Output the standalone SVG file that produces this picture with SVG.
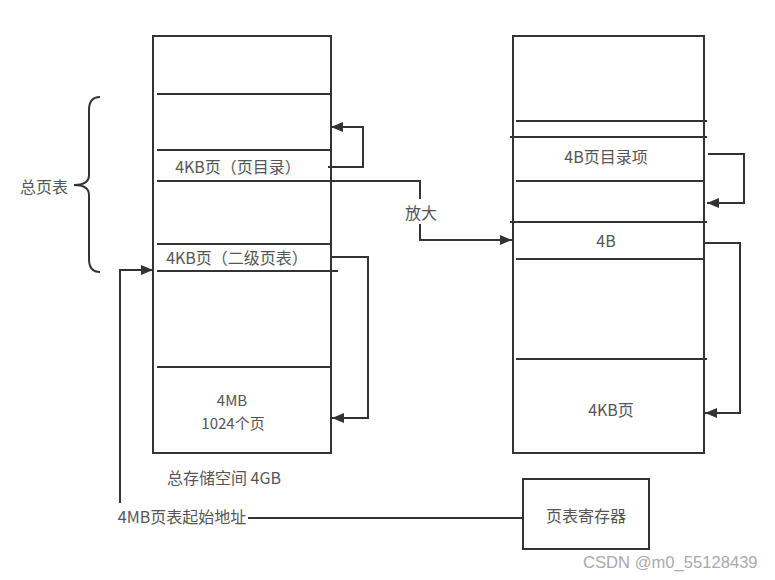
<svg xmlns="http://www.w3.org/2000/svg" width="775" height="580" viewBox="0 0 775 580">
<style>
.box{fill:#fff;stroke:#333;stroke-width:2}
.ln{stroke:#333;stroke-width:2;fill:none}
.t{font-family:"Noto Sans CJK SC","Liberation Sans",sans-serif;font-size:16px;fill:#555;text-anchor:middle;dominant-baseline:central}
.s{font-size:15px}
.wm{font-family:"Liberation Sans",Arial,sans-serif;font-size:16.6px;fill:#aaa}
</style>
<defs>
<marker id="ah" markerUnits="userSpaceOnUse" markerWidth="12" markerHeight="10" refX="12" refY="5" orient="auto">
<path d="M0,0 L12,5 L0,10 z" fill="#333"/>
</marker>
</defs>
<rect width="775" height="580" fill="#fff"/>
<g id="left-memory">
<rect class="box" x="153" y="36" width="178" height="417"/>
<line class="ln" x1="157" y1="94" x2="331" y2="94"/>
<line class="ln" x1="157" y1="150" x2="331" y2="150"/>
<line class="ln" x1="157" y1="181" x2="331" y2="181"/>
<line class="ln" x1="157" y1="244" x2="331" y2="244"/>
<line class="ln" x1="157" y1="271" x2="338" y2="271"/>
<line class="ln" x1="157" y1="367" x2="331" y2="367"/>
<text class="t" x="238" y="166">4KB页（页目录）</text>
<text class="t" x="237" y="257">4KB页（二级页表）</text>
<text class="t s" x="232" y="399">4MB</text>
<text class="t s" x="233" y="422">1024个页</text>
</g>
<g id="left-caption">
<text class="t" x="224" y="477">总存储空间 4GB</text>
</g>
<g id="right-memory">
<rect class="box" x="513" y="36" width="191" height="417"/>
<line class="ln" x1="516" y1="121" x2="707" y2="121"/>
<line class="ln" x1="510" y1="137" x2="707" y2="137"/>
<line class="ln" x1="516" y1="181" x2="704" y2="181"/>
<line class="ln" x1="510" y1="222" x2="707" y2="222"/>
<line class="ln" x1="516" y1="259" x2="704" y2="259"/>
<line class="ln" x1="516" y1="359" x2="707" y2="359"/>
<text class="t" x="606" y="156">4B页目录项</text>
<text class="t" x="606" y="240">4B</text>
<text class="t" x="611" y="409">4KB页</text>
</g>
<g id="total-page-table">
<path class="ln" d="M100,97 Q89,97 89,110 L89,175 Q89,185 74,185 Q89,185 89,195 L89,259 Q89,272 100,272"/>
<text class="t" x="44" y="186">总页表</text>
</g>
<g id="register">
<rect class="box" x="523" y="479" width="126" height="70"/>
<text class="t" x="586" y="515">页表寄存器</text>
</g>
<g id="start-address">
<text class="t" x="182" y="516">4MB页表起始地址</text>
</g>
<g id="connectors">
<polyline class="ln" points="328,167 363,167 363,127 331,127" marker-end="url(#ah)"/>
<polyline class="ln" points="331,181 420,181 420,199"/>
<text class="t" x="421" y="212">放大</text>
<polyline class="ln" points="420,224 420,240 512,240" marker-end="url(#ah)"/>
<polyline class="ln" points="331,257 368,257 368,418 332,418" marker-end="url(#ah)"/>
<polyline class="ln" points="708,154 744,154 744,203 707,203" marker-end="url(#ah)"/>
<polyline class="ln" points="704,243 740,243 740,413 705,413" marker-end="url(#ah)"/>
<line class="ln" x1="523" y1="518" x2="248" y2="518"/>
<polyline class="ln" points="120,503 120,270 153,270" marker-end="url(#ah)"/>
</g>
<text class="wm" x="583" y="568">CSDN @m0_55128439</text>
</svg>
